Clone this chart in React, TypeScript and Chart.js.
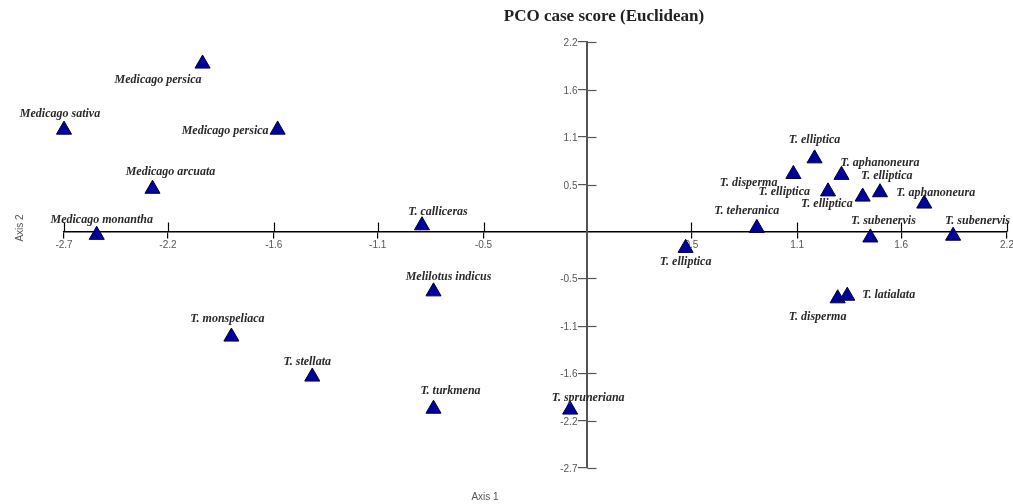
import React, { useEffect, useRef } from 'react';
import { Chart, registerables } from 'chart.js';

Chart.register(...registerables);

// ---------------- data ----------------
const chartTitle = 'PCO case score (Euclidean)';
const xAxisTitle = 'Axis 1';
const yAxisTitle = 'Axis 2';

const caseNames = [
  'Medicago persica',
  'Medicago sativa',
  'Medicago persica',
  'Medicago arcuata',
  'Medicago monantha',
  'T. calliceras',
  'Melilotus indicus',
  'T. monspeliaca',
  'T. stellata',
  'T. turkmena',
  'T. spruneriana',
  'T. elliptica',
  'T. teheranica',
  'T. elliptica',
  'T. disperma',
  'T. aphanoneura',
  'T. elliptica',
  'T. elliptica',
  'T. elliptica',
  'T. aphanoneura',
  'T. subenervis',
  'T. subenervis',
  'T. disperma',
  'T. latialata',
];

const axis1Scores = [
  -2.0, -2.72, -1.61, -2.26, -2.55, -0.86, -0.8, -1.85, -1.43, -0.8, -0.09, 0.51,
  0.88, 1.18, 1.07, 1.32, 1.25, 1.43, 1.52, 1.75, 1.47, 1.9, 1.3, 1.35,
];

const axis2Scores = [
  1.93, 1.17, 1.17, 0.49, -0.04, 0.07, -0.69, -1.21, -1.67, -2.04, -2.05, -0.19,
  0.04, 0.84, 0.66, 0.65, 0.46, 0.4, 0.45, 0.32, -0.07, -0.05, -0.77, -0.74,
];

const xTickValues = [-2.72, -2.18, -1.63, -1.09, -0.54, 0.54, 1.09, 1.63, 2.18];
const xTickLabels = ['-2.7', '-2.2', '-1.6', '-1.1', '-0.5', '0.5', '1.1', '1.6', '2.2'];
const yTickValues = [2.18, 1.63, 1.09, 0.54, -0.54, -1.09, -1.63, -2.18, -2.72];
const yTickLabels = ['2.2', '1.6', '1.1', '0.5', '-0.5', '-1.1', '-1.6', '-2.2', '-2.7'];

// ---------------- styling: label offsets (px) relative to each marker ----------------
const labelPlacement: [number, number, CanvasTextAlign][] = [
  [-1, 16, 'right'],
  [-4, -16, 'center'],
  [-9, 1, 'right'],
  [18, -17, 'center'],
  [5, -15, 'center'],
  [16, -14, 'center'],
  [15, -15, 'center'],
  [-4, -18, 'center'],
  [-5, -15, 'center'],
  [17, -18, 'center'],
  [18, -12, 'center'],
  [0, 14, 'center'],
  [-10, -17, 'center'],
  [0, -19, 'center'],
  [-16, 9, 'right'],
  [-1, -12, 'left'],
  [-18, 0, 'right'],
  [-10, 7, 'right'],
  [-19, -16, 'left'],
  [-28, -11, 'left'],
  [13, -17, 'center'],
  [-8, -15, 'left'],
  [-20, 18, 'center'],
  [15, -1, 'left'],
];

const decorPlugin = {
  id: 'pcoDecor',
  afterDatasetsDraw(chart: any) {
    const ctx: CanvasRenderingContext2D = chart.ctx;
    const xs = chart.scales.x;
    const ys = chart.scales.y;
    const x0 = xs.getPixelForValue(0);
    const y0 = ys.getPixelForValue(0);

    ctx.save();
    // upper halves of x tick marks
    ctx.strokeStyle = '#000';
    ctx.lineWidth = 1.2;
    xTickValues.forEach((v) => {
      const px = Math.round(xs.getPixelForValue(v)) + 0.5;
      ctx.beginPath();
      ctx.moveTo(px, y0 - 9);
      ctx.lineTo(px, y0);
      ctx.stroke();
    });
    // right halves of y tick marks + y tick labels
    ctx.strokeStyle = '#555';
    ctx.fillStyle = '#555';
    ctx.font = '10px "Liberation Sans"';
    ctx.textAlign = 'right';
    ctx.textBaseline = 'middle';
    yTickValues.forEach((v, i) => {
      const py = Math.round(ys.getPixelForValue(v)) + 0.5;
      ctx.beginPath();
      ctx.moveTo(x0, py);
      ctx.lineTo(x0 + 9, py);
      ctx.stroke();
      ctx.fillText(yTickLabels[i], x0 - 10, py + 0.5);
    });

    // case labels
    const meta = chart.getDatasetMeta(0);
    ctx.font = 'italic bold 12px "Liberation Serif"';
    ctx.fillStyle = '#2a2a2a';
    ctx.textBaseline = 'middle';
    meta.data.forEach((el: any, i: number) => {
      const [dx, dy, align] = labelPlacement[i];
      ctx.textAlign = align;
      ctx.fillText(caseNames[i], el.x + dx, el.y + dy);
    });

    // title
    ctx.font = 'bold 17px "Liberation Serif"';
    ctx.fillStyle = '#222';
    ctx.textAlign = 'center';
    ctx.fillText(chartTitle, 604, 17);

    // axis titles
    ctx.font = '10px "Liberation Sans"';
    ctx.fillStyle = '#555';
    ctx.fillText(xAxisTitle, 485, 497);
    ctx.translate(20, 228);
    ctx.rotate(-Math.PI / 2);
    ctx.fillText(yAxisTitle, 0, 0);
    ctx.restore();
  },
};

export default function App() {
  const canvasRef = useRef<HTMLCanvasElement | null>(null);

  useEffect(() => {
    document.body.style.margin = '0';
    const canvas = canvasRef.current;
    if (!canvas) return;

    const chart = new Chart(canvas, {
      type: 'scatter',
      data: {
        datasets: [
          {
            label: 'cases',
            data: axis1Scores.map((x, i) => ({ x, y: axis2Scores[i] })),
            pointStyle: 'triangle',
            pointRadius: 8.7,
            pointHoverRadius: 8.7,
            backgroundColor: '#00009c',
            borderColor: '#00003c',
            borderWidth: 1,
            clip: false,
          } as any,
        ],
      },
      options: {
        animation: false,
        responsive: true,
        maintainAspectRatio: false,
        events: [],
        layout: { autoPadding: false, padding: { left: 64, right: 6, top: 42, bottom: 36 } },
        plugins: {
          legend: { display: false },
          tooltip: { enabled: false },
          title: { display: false },
        },
        scales: {
          x: {
            type: 'linear',
            min: -2.72,
            max: 2.18,
            bounds: 'data',
            position: { y: 0 } as any,
            afterBuildTicks: (s: any) => {
              s.ticks = xTickValues.map((v) => ({ value: v }));
            },
            afterFit: (s: any) => {
              s.paddingLeft = 0;
              s.paddingRight = 0;
            },
            grid: {
              drawOnChartArea: false,
              drawTicks: true,
              tickLength: 6,
              color: '#000',
              lineWidth: 1.2,
            },
            border: { display: true, color: '#000', width: 1.5 },
            ticks: {
              autoSkip: false,
              maxRotation: 0,
              padding: 2,
              color: '#555',
              font: { family: 'Liberation Sans', size: 10 },
              callback: (v: any) => {
                const i = xTickValues.indexOf(Number(v));
                return i >= 0 ? xTickLabels[i] : '';
              },
            },
          },
          y: {
            type: 'linear',
            min: -2.72,
            max: 2.18,
            bounds: 'data',
            position: { x: 0 } as any,
            afterBuildTicks: (s: any) => {
              s.ticks = yTickValues.map((v) => ({ value: v }));
            },
            afterFit: (s: any) => {
              s.paddingTop = 0;
              s.paddingBottom = 0;
            },
            grid: {
              drawOnChartArea: false,
              drawTicks: true,
              tickLength: 8,
              color: '#555',
              lineWidth: 1.2,
            },
            border: { display: true, color: '#555', width: 2 },
            ticks: { display: false },
          },
        },
      },
      plugins: [decorPlugin],
    });

    return () => chart.destroy();
  }, []);

  return (
    <div style={{ position: 'relative', width: '1013px', height: '504px', background: '#fff' }}>
      <canvas ref={canvasRef} />
    </div>
  );
}
